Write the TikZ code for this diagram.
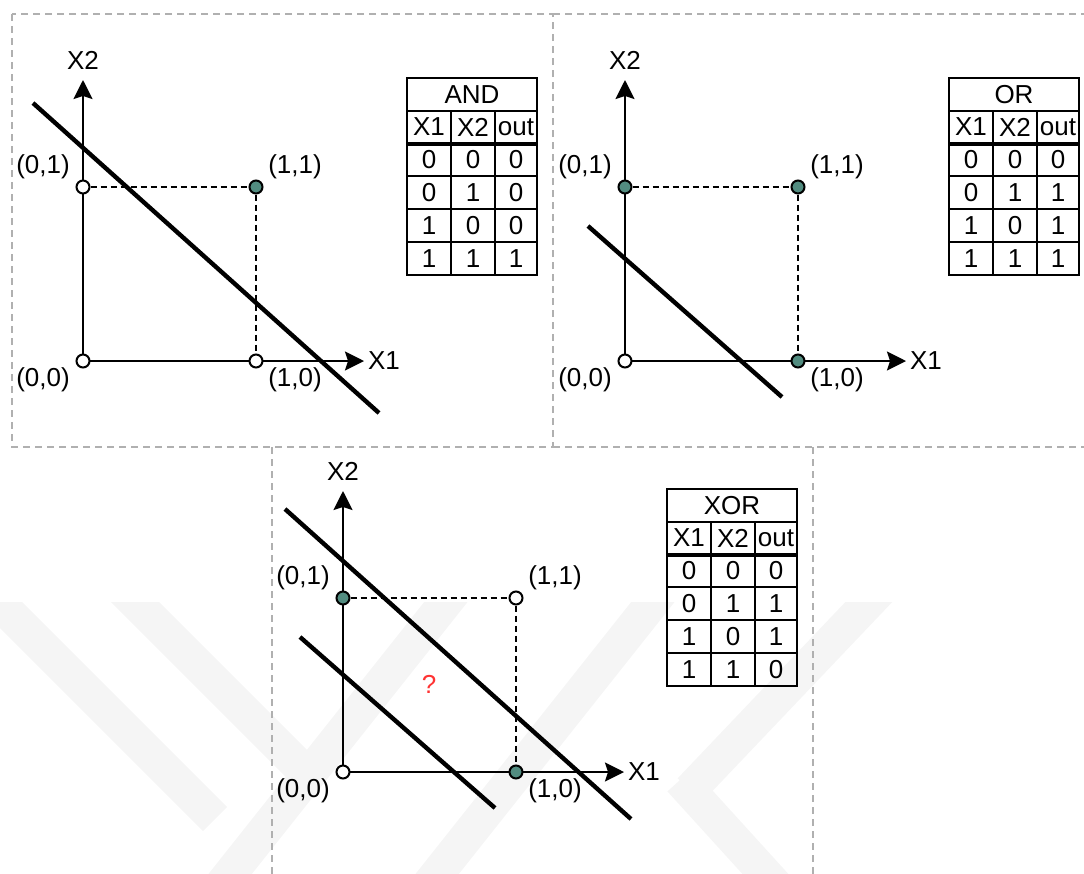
\documentclass[tikz,border=0pt]{standalone}
\usepackage{fontspec}
\setmainfont{Liberation Sans}
\usetikzlibrary{arrows.meta}
\definecolor{PointTeal}{RGB}{82,140,128}
\definecolor{FrameGray}{RGB}{176,176,176}
\definecolor{QuestRed}{RGB}{255,51,51}
\definecolor{MarkGray}{RGB}{245,245,245}
\colorlet{ptfill0}{white}
\colorlet{ptfill1}{PointTeal}
\tikzset{
  frame/.style={FrameGray,line width=0.75pt,dash pattern=on 3.5pt off 2.5pt},
  axis/.style={line width=1pt,-{Stealth[length=9.5pt,width=9.5pt,inset=1.5pt]}},
  guide/.style={line width=1pt,dash pattern=on 3pt off 2pt},
  cut/.style={line width=2.2pt},
  band/.style={MarkGray,line width=17pt},
  pt/.style={circle,draw,line width=1pt,inner sep=0pt,minimum size=6.5pt},
  lbl/.style={inner sep=0pt,font=\fontsize{13}{15}\selectfont},
  cell/.style={draw,line width=1pt,inner sep=0pt,font=\fontsize{13}{15}\selectfont},
}

\begin{document}
\begin{tikzpicture}[x=0.5pt,y=-0.5pt]
  \useasboundingbox (0,0) rectangle (1084,874);
  % faint background marks
  \begin{scope}
    \clip (0,602) rectangle (1084,874);
    \draw[band] (-40,564) -- (215,819);
    \draw[band] (100,567) -- (300,767);
    \draw[band] (200,912) -- (476,564);
    \draw[band] (407,912) -- (683,564);
    \draw[band] (905,564) -- (690,790);
    \draw[band] (680,780) -- (800,912);
  \end{scope}
  % panel frames
  \draw[frame] (12,14) rectangle (553,447);
  \draw[frame] (553,14) -- (1084,14);
  \draw[frame] (553,447) -- (1084,447);
  \draw[frame] (272,447) -- (272,874);
  \draw[frame] (813,447) -- (813,874);
  % one panel per gate: points are filled where out = 1
  \foreach \p/\ox/\oy/\gate/\va/\vb/\vc/\vd in {a/83/361/AND/0/0/0/1, o/625/361/OR/0/1/1/1, x/343/772/XOR/0/1/1/0} {
    \coordinate (\p-o) at (\ox,\oy);
    \coordinate (\p-xe) at ({\ox+281},\oy);
    \coordinate (\p-ye) at (\ox,{\oy-281});
    \draw[axis] (\p-o) -- (\p-xe);
    \draw[axis] (\p-o) -- (\p-ye);
    \node[lbl] (\p-x1) at ({\ox+301},\oy) {X1};
    \node[lbl] (\p-x2) at (\ox,{\oy-301}) {X2};
    \node[pt,fill=ptfill\va] (\p00) at (\ox,\oy) {};
    \node[pt,fill=ptfill\vb] (\p01) at (\ox,{\oy-174}) {};
    \node[pt,fill=ptfill\vc] (\p10) at ({\ox+173},\oy) {};
    \node[pt,fill=ptfill\vd] (\p11) at ({\ox+173},{\oy-174}) {};
    \draw[guide] (\p01) -- (\p11);
    \draw[guide] (\p11) -- (\p10);
    \node[lbl] (\p-l00) at ({\ox-40},{\oy+19}) {(0,0)};
    \node[lbl] (\p-l01) at ({\ox-40},{\oy-194}) {(0,1)};
    \node[lbl] (\p-l10) at ({\ox+212},{\oy+19}) {(1,0)};
    \node[lbl] (\p-l11) at ({\ox+212},{\oy-194}) {(1,1)};
    % truth table
    \node[cell,minimum width=65pt,minimum height=16.5pt] (\p-t) at ({\ox+389},{\oy-266.5}) {\gate};
    \node[cell,minimum width=22pt,minimum height=16pt] (\p-h1) at ({\ox+346},{\oy-234}) {X1};
    \node[cell,minimum width=22pt,minimum height=16pt] (\p-h2) at ({\ox+390},{\oy-234}) {X2};
    \node[cell,minimum width=21pt,minimum height=16pt] (\p-h3) at ({\ox+433},{\oy-234}) {out};
    \foreach \r/\i/\j/\v in {0/0/0/\va, 1/0/1/\vb, 2/1/0/\vc, 3/1/1/\vd} {
      \node[cell,minimum width=22pt,minimum height=16.5pt] (\p-r\r-1) at ({\ox+346},{\oy-201.5+33*\r}) {\i};
      \node[cell,minimum width=22pt,minimum height=16.5pt] (\p-r\r-2) at ({\ox+390},{\oy-201.5+33*\r}) {\j};
      \node[cell,minimum width=21pt,minimum height=16.5pt] (\p-r\r-3) at ({\ox+433},{\oy-201.5+33*\r}) {\v};
    }
    \draw[line width=2pt] (\p-h1.south west) -- (\p-h3.south east);
  }
  % decision lines
  \coordinate (a-c1) at (33,103);
  \coordinate (a-c2) at (379,413);
  \draw[cut] (a-c1) -- (a-c2);
  \coordinate (o-c1) at (588,226);
  \coordinate (o-c2) at (782,397);
  \draw[cut] (o-c1) -- (o-c2);
  \coordinate (x-c1) at (285,509);
  \coordinate (x-c2) at (631,819);
  \draw[cut] (x-c1) -- (x-c2);
  \coordinate (x-c3) at (300,637);
  \coordinate (x-c4) at (495,808);
  \draw[cut] (x-c3) -- (x-c4);
  \node[lbl,text=QuestRed] (x-q) at (429,684) {?};
\end{tikzpicture}
\end{document}
